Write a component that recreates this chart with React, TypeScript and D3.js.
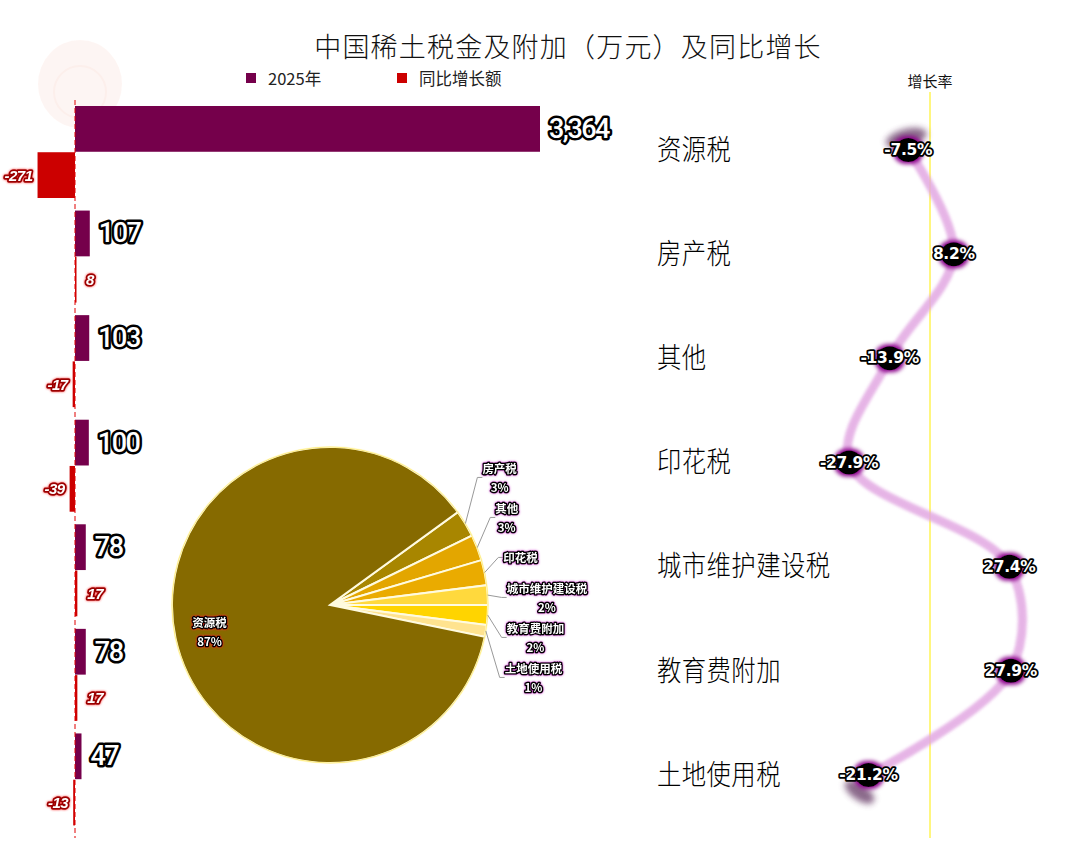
import React from 'react';
import * as d3 from 'd3';

const titleText = '中国稀土税金及附加（万元）及同比增长';
const categories = ['资源税', '房产税', '其他', '印花税', '城市维护建设税', '教育费附加', '土地使用税'];
const values2025 = [3364, 107, 103, 100, 78, 78, 47];
const yoyChange = [-271, 8, -17, -39, 17, 17, -13];
const growthRate = [-7.5, 8.2, -13.9, -27.9, 27.4, 27.9, -21.2];
const legendLabels = ['2025年', '同比增长额'];
const growthAxisLabel = '增长率';
const pieOrder = ['房产税', '其他', '印花税', '城市维护建设税', '教育费附加', '土地使用税', '资源税'];
const pieColors = ['#a88600', '#e3a600', '#eaab00', '#ffd93d', '#ffd400', '#ffe38f', '#866a00'];
const hiddenPercentLabels = ['印花税'];

const W = 1080;
const H = 843;
const PURPLE = '#75004b';
const RED = '#cc0000';
const CJK = '"Noto Sans CJK SC", "Noto Sans", sans-serif';

export default function App() {
  // bar chart scales
  const band = d3.scaleBand<string>().domain(categories).range([101, 833]);
  const sub = d3.scaleBand<string>().domain(['v', 'c']).range([5, 97]).paddingInner(0.01);
  const maxV = d3.max(values2025) as number;
  const xBar = d3.scaleLinear().domain([0, maxV]).range([75, 540]);
  const zeroX = xBar(0);

  // right side
  const rowY = d3.scalePoint<string>().domain(categories).range([150, 775]);
  const xG = d3.scaleLinear().domain([-30, 30]).range([843, 1017]);
  const gPts: [number, number][] = categories.map((c, i) => [xG(growthRate[i]), rowY(c) as number]);
  const linePath = d3.line().curve(d3.curveCatmullRom.alpha(0.5))(gPts) as string;

  // pie
  const cx = 330, cy = 605, r = 158;
  const pieData = pieOrder.map((name, i) => ({ name, v: values2025[categories.indexOf(name)], color: pieColors[i] }));
  const total = d3.sum(pieData, d => d.v);
  const a0 = (54 * Math.PI) / 180;
  const arcs = d3.pie<any>().value(d => d.v).sort(null).startAngle(a0).endAngle(a0 + Math.PI * 2)(pieData);
  const arcGen = d3.arc<any>().innerRadius(0).outerRadius(r);

  // outer label layout: desired y then resolve overlaps by centring groups
  const outer = arcs.filter(a => a.data.name !== '资源税').map(a => {
    const mid = (a.startAngle + a.endAngle) / 2;
    return { a, mid, y0: cy - (r + 22) * Math.cos(mid), y: 0 };
  });
  const gap = 40;
  let groups = outer.map(o => ({ items: [o], y: o.y0 }));
  let changed = true;
  const layoutGroup = (g: any) => {
    const mean = d3.mean(g.items, (o: any) => o.y0) as number;
    g.y = mean - ((g.items.length - 1) * gap) / 2;
  };
  groups.forEach(layoutGroup);
  while (changed) {
    changed = false;
    for (let i = 0; i < groups.length - 1; i++) {
      const g1 = groups[i], g2 = groups[i + 1];
      const end1 = g1.y + (g1.items.length - 1) * gap;
      if (g2.y - end1 < gap) {
        const merged = { items: [...g1.items, ...g2.items], y: 0 };
        layoutGroup(merged);
        groups.splice(i, 2, merged);
        changed = true;
        break;
      }
    }
  }
  groups.forEach(g => g.items.forEach((o: any, k: number) => (o.y = g.y + k * gap)));

  const labelStyle: React.CSSProperties = {
    fontFamily: CJK,
    fontSize: 11.5,
    fontWeight: 700,
    fill: '#fff',
    stroke: '#000',
    strokeWidth: 3,
    paintOrder: 'stroke',
    strokeLinejoin: 'round',
  };

  const pct = (v: number) => `${Math.round((v / total) * 100)}%`;
  const mainArc = arcs.find(a => a.data.name === '资源税')!;
  const mainMid = (mainArc.startAngle + mainArc.endAngle) / 2;
  const mainLabelPos = [cx + r * 0.78 * Math.sin(mainMid), cy - r * 0.78 * Math.cos(mainMid)];

  const first = gPts[0];
  const last = gPts[gPts.length - 1];

  return (
    <svg width={W} height={H} style={{ position: 'absolute', left: 0, top: 0, background: '#fff' }}>
      <defs>
        <filter id="lineGlow" x="-20%" y="-20%" width="140%" height="140%">
          <feGaussianBlur stdDeviation="1.8" />
        </filter>
        <filter id="blob" x="-100%" y="-100%" width="300%" height="300%">
          <feGaussianBlur stdDeviation="3" />
        </filter>
        <filter id="dotGlow" x="-100%" y="-100%" width="300%" height="300%">
          <feMorphology operator="dilate" radius="1.5" in="SourceAlpha" result="d" />
          <feGaussianBlur in="d" stdDeviation="2.2" result="b" />
          <feFlood floodColor="#8a008a" />
          <feComposite in2="b" operator="in" result="glow" />
          <feMerge>
            <feMergeNode in="glow" />
            <feMergeNode in="SourceGraphic" />
          </feMerge>
        </filter>
        <filter id="pinkGlow" x="-30%" y="-50%" width="160%" height="200%">
          <feDropShadow dx="0" dy="0" stdDeviation="1" floodColor="#d040d0" floodOpacity="0.9" />
        </filter>
        <filter id="redGlow" x="-30%" y="-50%" width="160%" height="200%">
          <feDropShadow dx="0" dy="0" stdDeviation="1" floodColor="#ff2020" floodOpacity="0.9" />
        </filter>
      </defs>

      {/* watermark */}
      <g opacity={0.55}>
        <ellipse cx={80} cy={84} rx={42} ry={44} fill="#fdeeea" />
        <ellipse cx={80} cy={92} rx={26} ry={26} fill="none" stroke="#fbe2dc" strokeWidth={2} />
      </g>

      {/* title */}
      <text x={568} y={45} textAnchor="middle" dominantBaseline="central"
        style={{ fontFamily: CJK, fontSize: 27, fill: '#111', letterSpacing: 1.2, fontWeight: 300 }}>{titleText}</text>

      {/* legend */}
      {legendLabels.map((l, i) => {
        const lx = 246 + i * 151;
        return (
          <g key={l}>
            <rect x={lx} y={73} width={10} height={10} fill={i === 0 ? PURPLE : RED} />
            <text x={lx + 22} y={78} dominantBaseline="central"
              style={{ fontFamily: CJK, fontSize: 16.5, fill: '#222' }}>{l}</text>
          </g>
        );
      })}

      {/* bars */}
      {categories.map((c, i) => {
        const by = band(c) as number;
        const vy = by + (sub('v') as number);
        const cyy = by + (sub('c') as number);
        const bh = sub.bandwidth();
        const v = values2025[i];
        const ch = yoyChange[i];
        const cx0 = Math.min(xBar(ch), zeroX);
        const cw = Math.abs(xBar(ch) - zeroX);
        const chLabelX = ch < 0 ? cx0 - 5 : zeroX + cw + 10;
        return (
          <g key={c}>
            <rect x={zeroX} y={vy} width={xBar(v) - zeroX} height={bh} fill={PURPLE} />
            <rect x={cx0} y={cyy} width={Math.max(cw, 1.5)} height={bh} fill={RED} />
            <text x={xBar(v) + 9} y={vy + bh / 2} dominantBaseline="central"
              style={{ fontFamily: 'Roboto, "Liberation Sans", sans-serif', fontSize: 27, fontWeight: 500, fill: '#fff', stroke: '#000', strokeWidth: 5, paintOrder: 'stroke', strokeLinejoin: 'round', letterSpacing: -1.5 }}>
              {d3.format(',')(v)}
            </text>
            <text x={chLabelX} y={cyy + bh / 2} textAnchor={ch < 0 ? 'end' : 'start'} dominantBaseline="central"
              filter="url(#redGlow)"
              style={{ fontFamily: '"Liberation Sans Narrow", "Liberation Sans", sans-serif', fontSize: 15, fontWeight: 700, fontStyle: 'italic', fill: '#fff', stroke: '#9a0000', strokeWidth: 3.5, paintOrder: 'stroke', strokeLinejoin: 'round', letterSpacing: -0.5 }}>
              {ch}
            </text>
          </g>
        );
      })}
      <line x1={zeroX} x2={zeroX} y1={100} y2={838} stroke="#e00000" strokeWidth={1} strokeDasharray="5,3" />

      {/* pie */}
      <g>
        {arcs.map(a => (
          <path key={a.data.name} d={arcGen(a) as string} transform={`translate(${cx},${cy})`}
            fill={a.data.color} stroke="#fffbe0" strokeWidth={2} />
        ))}
        <circle cx={cx} cy={cy} r={r} fill="none" stroke="#ffe64d" strokeWidth={0.8} opacity={0.8} />
        {outer.map(o => {
          const ex = cx + r * Math.sin(o.mid), ey = cy - r * Math.cos(o.mid);
          const lx = cx + (r + 14) * Math.sin(o.mid);
          const name = o.a.data.name as string;
          const tw = name.length * 11.5;
          const tx = lx + 5 + tw / 2;
          const showPct = !hiddenPercentLabels.includes(name);
          return (
            <g key={name}>
              <polyline points={`${ex},${ey} ${lx},${o.y} ${lx + 5},${o.y}`} fill="none" stroke="#999" strokeWidth={1} />
              <text x={tx} y={showPct ? o.y - 9 : o.y} textAnchor="middle" dominantBaseline="central" filter="url(#pinkGlow)" style={labelStyle}>{name}</text>
              {showPct && (
                <text x={tx} y={o.y + 10} textAnchor="middle" dominantBaseline="central" filter="url(#pinkGlow)" style={labelStyle}>{pct(o.a.data.v)}</text>
              )}
            </g>
          );
        })}
        <text x={mainLabelPos[0]} y={mainLabelPos[1] - 9} textAnchor="middle" dominantBaseline="central" filter="url(#redGlow)" style={labelStyle}>{mainArc.data.name}</text>
        <text x={mainLabelPos[0]} y={mainLabelPos[1] + 10} textAnchor="middle" dominantBaseline="central" filter="url(#redGlow)" style={labelStyle}>{pct(mainArc.data.v)}</text>
      </g>

      {/* category labels */}
      {categories.map(c => (
        <text key={c} transform={`translate(657,${(rowY(c) as number) - 2}) scale(0.87,1)`} dominantBaseline="central"
          style={{ fontFamily: CJK, fontSize: 28, fill: '#000', fontWeight: 300, letterSpacing: 0.5 }}>{c}</text>
      ))}

      {/* growth axis */}
      <line x1={xG(0)} x2={xG(0)} y1={92} y2={838} stroke="#ffee00" strokeWidth={1} />
      <text x={xG(0)} y={80} textAnchor="middle" dominantBaseline="central"
        style={{ fontFamily: CJK, fontSize: 15, fill: '#111' }}>{growthAxisLabel}</text>

      {/* end shadow blobs */}
      <ellipse cx={first[0] - 2} cy={first[1] - 12} rx={21} ry={9} fill="#5a2a5a" opacity={0.7}
        transform={`rotate(-15 ${first[0] - 2} ${first[1] - 12})`} filter="url(#blob)" />
      <ellipse cx={last[0] - 9} cy={last[1] + 17} rx={17} ry={8} fill="#5a2a5a" opacity={0.7}
        transform={`rotate(35 ${last[0] - 9} ${last[1] + 17})`} filter="url(#blob)" />

      {/* growth line */}
      <path d={linePath} fill="none" stroke="#e2a8e2" strokeWidth={9} strokeLinecap="round" opacity={0.85} filter="url(#lineGlow)" />
      {gPts.map((p, i) => (
        <g key={categories[i]}>
          <ellipse cx={p[0]} cy={p[1]} rx={13} ry={12} fill="#000" filter="url(#dotGlow)" />
          <text x={p[0]} y={p[1]} textAnchor="middle" dominantBaseline="central"
            style={{ fontFamily: '"DejaVu Sans", sans-serif', fontSize: 15.5, fontWeight: 700, fill: '#fff', stroke: '#000', strokeWidth: 3.5, paintOrder: 'stroke', strokeLinejoin: 'round', letterSpacing: -0.3 }}>
            {`${growthRate[i].toFixed(1)}%`}
          </text>
        </g>
      ))}
    </svg>
  );
}
